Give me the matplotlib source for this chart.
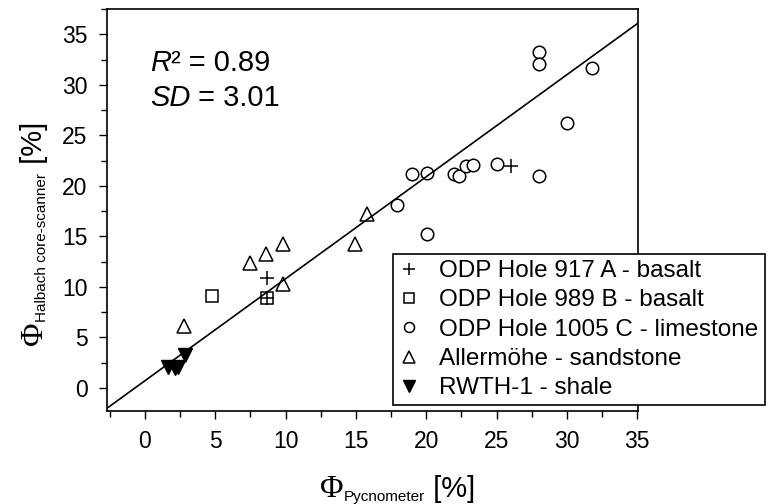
import matplotlib
matplotlib.use('Agg')
import matplotlib.pyplot as plt
from matplotlib.ticker import MultipleLocator
from matplotlib.transforms import IdentityTransform

plt.rcParams['font.family'] = ['Liberation Sans', 'DejaVu Sans']

# porosity [%]: pycnometer (x) vs Halbach core-scanner (y)
odp917_pyc = [8.65, 8.65, 26.0]
odp917_hal = [10.9, 8.9, 22.0]

odp989_pyc = [4.8, 8.65]
odp989_hal = [9.05, 8.9]

odp1005_pyc = [19.0, 20.06, 22.0, 22.3, 22.8, 23.3, 17.9, 20.06, 25.0, 28.0, 28.0, 31.8, 30.0, 28.0]
odp1005_hal = [21.2, 21.3, 21.2, 21.0, 22.0, 22.1, 18.1, 15.2, 22.2, 33.2, 32.1, 31.7, 26.2, 21.0]

allermoehe_pyc = [7.5, 8.6, 9.8, 9.8, 2.8, 15.8, 14.9]
allermoehe_hal = [12.4, 13.25, 14.2, 10.3, 6.1, 17.2, 14.2]

rwth_pyc = [1.66, 2.1, 2.37, 2.85]
rwth_hal = [2.1, 2.0, 2.1, 3.27]

series_labels = ['ODP Hole 917 A - basalt', 'ODP Hole 989 B - basalt',
                 'ODP Hole 1005 C - limestone', 'Allermöhe - sandstone',
                 'RWTH-1 - shale']

fit_slope = 1.01
fit_intercept = 0.7
r2 = 0.89
sd = 3.01

W, H = 769, 504
fig = plt.figure(figsize=(W / 100, H / 100), dpi=100)
ax = fig.add_axes([107 / W, (H - 411) / H, (638 - 107) / W, (411 - 9) / H])

open_kw = dict(linestyle='none', markerfacecolor='white', markeredgecolor='black',
               markeredgewidth=1.1)
ax.plot(odp1005_pyc, odp1005_hal, 'o', markersize=9, label=series_labels[2], **open_kw)
ax.plot(allermoehe_pyc, allermoehe_hal, '^', markersize=10, label=series_labels[3], **open_kw)
ax.plot(odp989_pyc, odp989_hal, 's', markersize=8.5, label=series_labels[1], **open_kw)
ax.plot(odp917_pyc, odp917_hal, '+', markersize=10, color='black', markeredgewidth=1.1,
        linestyle='none', label=series_labels[0])
ax.plot(rwth_pyc, rwth_hal, 'v', markersize=10, color='black', linestyle='none',
        label=series_labels[4])

ax.axline((0, fit_intercept), slope=fit_slope, color='black', linewidth=1.2)

ax.set_xlim(-2.7, 35.05)
ax.set_ylim(-2.3, 37.5)
ax.xaxis.set_major_locator(MultipleLocator(5))
ax.xaxis.set_minor_locator(MultipleLocator(2.5))
ax.yaxis.set_major_locator(MultipleLocator(5))
ax.yaxis.set_minor_locator(MultipleLocator(2.5))
ax.tick_params(which='both', direction='out', width=1, colors='black', labelsize=16.5)
ax.tick_params(which='major', length=6)
ax.tick_params(which='minor', length=4)
ax.tick_params(axis='x', pad=8)
ax.tick_params(axis='y', pad=8)
for sp in ax.spines.values():
    sp.set_linewidth(1.2)

# legend in the order of the original key
h, l = ax.get_legend_handles_labels()
order = [l.index(s) for s in series_labels]
leg = fig.legend([h[i] for i in order], [l[i] for i in order],
                 loc='upper left', bbox_to_anchor=(393 / W, 1 - 254 / H),
                 fontsize=17.5, markerscale=0.8, frameon=True, fancybox=False,
                 borderpad=0.25, labelspacing=0.3, handlelength=0.8,
                 handletextpad=0.85, borderaxespad=0)
leg.get_frame().set_edgecolor('black')
leg.get_frame().set_linewidth(1.2)
leg.get_frame().set_alpha(1)

renderer = fig.canvas.get_renderer()


def put_parts(x, y, parts, vertical=False):
    # write text pieces one after another, starting at pixel (x, y from top)
    y = H - y
    for s, kw, shift in parts:
        if vertical:
            t = fig.text(x + shift, y, s, rotation=90, rotation_mode='anchor',
                         ha='left', va='baseline', transform=IdentityTransform(), **kw)
            y = t.get_window_extent(renderer).y1
        else:
            t = fig.text(x, y - shift, s, ha='left', va='baseline',
                         transform=IdentityTransform(), **kw)
            x = t.get_window_extent(renderer).x1


phi = dict(family='Liberation Serif', fontsize=23)
sub = dict(fontsize=11)
unit = dict(fontsize=21)

put_parts(320, 497, [('Φ', phi, 0), ('Pycnometer', sub, 4), (' [%]', unit, 0)])
put_parts(42, 345, [('Φ', phi, 0), ('Halbach core-scanner', sub, 4), (' [%]', unit, 0)],
          vertical=True)

stat = dict(fontsize=21)
put_parts(150, 71, [('R', dict(stat, style='italic'), 0), (f'² = {r2:.2f}', stat, 0)])
put_parts(150, 106, [('SD', dict(stat, style='italic'), 0), (f' = {sd:.2f}', stat, 0)])

fig.savefig('out.png', dpi=100)
